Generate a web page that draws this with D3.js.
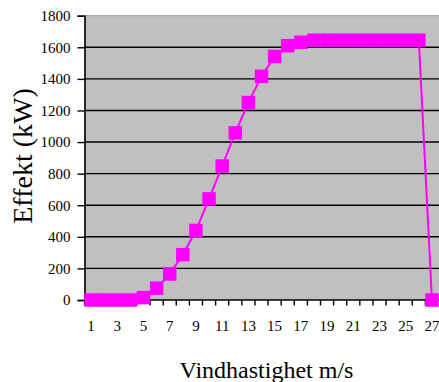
<!DOCTYPE html>
<html>
<head>
<meta charset="utf-8">
<script src="https://cdn.jsdelivr.net/npm/d3@7"></script>
<style>
  html, body { margin: 0; padding: 0; background: #fff; }
  svg { display: block; }
  text { font-family: "Liberation Serif", "Times New Roman", serif; fill: #000; }
</style>
</head>
<body>
<svg id="chart" width="439" height="382"></svg>
<script>
// Wind speed categories (m/s)
const windSpeeds = d3.range(1, 28);
// Power output (kW) per wind speed
const powerKW = [0, 0, 0, 0, 15, 75, 165, 287, 440, 640, 848, 1058, 1250, 1416, 1542, 1610, 1632, 1645,
                 1645, 1645, 1645, 1645, 1645, 1645, 1645, 1645, 0];
// Axis tick values
const yTicks = [0, 200, 400, 600, 800, 1000, 1200, 1400, 1600, 1800];
const xTickLabels = windSpeeds.filter(v => v % 2 === 1);

const yTitle = "Effekt (kW)";
const xTitle = "Vindhastighet m/s";

const svg = d3.select("#chart");
const plot = { left: 84.5, right: 438.5, top: 15.7, bottom: 300 };

const x = d3.scaleBand().domain(windSpeeds).range([plot.left, plot.right]).padding(0);
const y = d3.scaleLinear().domain([0, 1800]).range([plot.bottom, plot.top]);

// Plot background
svg.append("rect")
  .attr("x", plot.left).attr("y", plot.top)
  .attr("width", plot.right - plot.left + 10).attr("height", plot.bottom - plot.top)
  .attr("fill", "#c0c0c0");
svg.append("line")
  .attr("x1", plot.left).attr("x2", 439)
  .attr("y1", plot.top).attr("y2", plot.top)
  .attr("stroke", "#9a9a9a").attr("stroke-width", 1);

// Horizontal gridlines
svg.append("g")
  .selectAll("line")
  .data(yTicks.filter(v => v > 0 && v < 1800))
  .join("line")
  .attr("x1", plot.left).attr("x2", 439)
  .attr("y1", d => y(d)).attr("y2", d => y(d))
  .attr("stroke", "#000").attr("stroke-width", 1.4);

// Y axis
const yAxis = svg.append("g")
  .attr("transform", `translate(${plot.left},0)`)
  .call(d3.axisLeft(y).tickValues(yTicks).tickSize(7).tickPadding(7).tickFormat(d3.format("d")));
yAxis.select(".domain").attr("stroke", "#000").attr("stroke-width", 1.6);
yAxis.selectAll(".tick line").attr("stroke", "#000").attr("stroke-width", 1.4);
yAxis.selectAll(".tick text")
  .style("font-family", "Liberation Serif, serif").style("font-size", "15px");

// X axis: ticks sit on category boundaries
const xAxisG = svg.append("g").attr("transform", `translate(0,${plot.bottom})`);
xAxisG.append("line")
  .attr("x1", plot.left).attr("x2", 439)
  .attr("stroke", "#000").attr("stroke-width", 1.6);
xAxisG.selectAll("line.tk")
  .data(windSpeeds)
  .join("line").attr("class", "tk")
  .attr("x1", d => x(d)).attr("x2", d => x(d))
  .attr("y1", 0).attr("y2", 5.5)
  .attr("stroke", "#000").attr("stroke-width", 1.4);
xAxisG.selectAll("text")
  .data(xTickLabels)
  .join("text")
  .attr("x", d => x(d) + x.bandwidth() / 2)
  .attr("y", 31)
  .attr("text-anchor", "middle")
  .style("font-size", "15px")
  .text(d => d);

// Power curve line
const line = d3.line()
  .x((d, i) => x(windSpeeds[i]) + x.bandwidth() / 2)
  .y(d => y(d));
svg.append("path")
  .datum(powerKW)
  .attr("d", line)
  .attr("fill", "none")
  .attr("stroke", "#ff00ff")
  .attr("stroke-width", 2);

// Square markers
const m = 13.5;
svg.append("g")
  .selectAll("rect")
  .data(powerKW)
  .join("rect")
  .attr("x", (d, i) => x(windSpeeds[i]) + x.bandwidth() / 2 - m / 2)
  .attr("y", d => y(d) - m / 2)
  .attr("width", m).attr("height", m)
  .attr("fill", "#ff00ff");

// Axis titles
svg.append("text")
  .attr("transform", `translate(32,156) rotate(-90)`)
  .attr("text-anchor", "middle")
  .style("font-size", "28px")
  .text(yTitle);

svg.append("text")
  .attr("x", 266.5).attr("y", 378)
  .attr("text-anchor", "middle")
  .style("font-size", "24px")
  .text(xTitle);
</script>
</body>
</html>
